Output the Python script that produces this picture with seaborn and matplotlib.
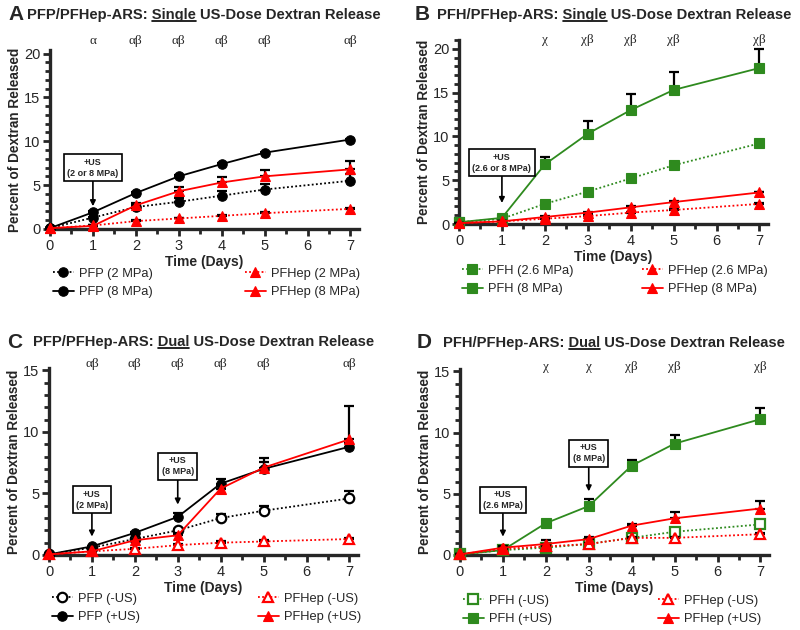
import numpy as np
import matplotlib
matplotlib.use('Agg')
import matplotlib.pyplot as plt
import seaborn as sns
from matplotlib.lines import Line2D
from matplotlib.ticker import MultipleLocator

# time points (days)
days = [0, 1, 2, 3, 4, 5, 7]

# A: PFP/PFHep single dose
a_pfp_2 = [0.1, 1.3, 2.5, 3.1, 3.8, 4.5, 5.5]
a_pfp_2_err = [0, 0.1, 0.2, 0.4, 0.5, 0.6, 0.8]
a_pfp_8 = [0.1, 1.9, 4.1, 6.0, 7.4, 8.7, 10.2]
a_pfp_8_err = [0, 0.1, 0.1, 0.1, 0.1, 0.1, 0.1]
a_hep_2 = [0.1, 0.4, 0.9, 1.2, 1.5, 1.8, 2.3]
a_hep_2_err = [0, 0.05, 0.1, 0.1, 0.1, 0.1, 0.1]
a_hep_8 = [0.1, 0.35, 2.7, 4.3, 5.3, 6.0, 6.8]
a_hep_8_err = [0, 0.05, 0.3, 0.5, 0.6, 0.7, 0.9]

# B: PFH/PFHep single dose
b_pfh_26 = [0.2, 0.6, 2.3, 3.7, 5.2, 6.7, 9.2]
b_pfh_26_err = [0, 0.05, 0.1, 0.1, 0.1, 0.1, 0.1]
b_pfh_8 = [0.2, 0.7, 6.8, 10.3, 13.0, 15.3, 17.8]
b_pfh_8_err = [0, 0.1, 0.9, 1.5, 1.8, 2.1, 2.2]
b_hep_26 = [0.1, 0.3, 0.6, 0.9, 1.3, 1.6, 2.3]
b_hep_26_err = [0, 0.05, 0.1, 0.1, 0.1, 0.1, 0.1]
b_hep_8 = [0.1, 0.3, 0.8, 1.3, 1.9, 2.5, 3.6]
b_hep_8_err = [0, 0.05, 0.1, 0.1, 0.1, 0.1, 0.1]

# C: PFP/PFHep dual dose
c_pfp_no = [0.05, 0.6, 1.3, 2.0, 3.0, 3.6, 4.6]
c_pfp_no_err = [0, 0.05, 0.1, 0.1, 0.3, 0.4, 0.6]
c_pfp_us = [0.05, 0.7, 1.8, 3.1, 5.8, 7.0, 8.8]
c_pfp_us_err = [0, 0.05, 0.1, 0.3, 0.4, 0.9, 0.3]
c_hep_no = [0.05, 0.3, 0.5, 0.8, 1.0, 1.1, 1.3]
c_hep_no_err = [0, 0.05, 0.05, 0.1, 0.1, 0.1, 0.1]
c_hep_us = [0.05, 0.3, 1.2, 1.6, 5.4, 7.1, 9.4]
c_hep_us_err = [0, 0.05, 0.1, 0.2, 0.3, 0.5, 2.7]

# D: PFH/PFHep dual dose
d_pfh_no = [0.05, 0.4, 0.6, 0.9, 1.4, 1.9, 2.5]
d_pfh_no_err = [0, 0.05, 0.1, 0.1, 0.3, 0.2, 0.4]
d_pfh_us = [0.05, 0.4, 2.6, 4.0, 7.3, 9.1, 11.1]
d_pfh_us_err = [0, 0.1, 0.1, 0.6, 0.5, 0.7, 0.9]
d_hep_no = [0.05, 0.5, 0.7, 0.9, 1.4, 1.4, 1.7]
d_hep_no_err = [0, 0.05, 0.1, 0.1, 0.1, 0.1, 0.1]
d_hep_us = [0.05, 0.6, 0.9, 1.3, 2.4, 3.0, 3.8]
d_hep_us_err = [0, 0.1, 0.3, 0.2, 0.1, 0.5, 0.6]

# significance marks above each panel
a_sig_days = [1, 2, 3, 4, 5, 7]
a_sig = ['α', 'αβ', 'αβ', 'αβ', 'αβ', 'αβ']
b_sig_days = [2, 3, 4, 5, 7]
b_sig = ['χ', 'χβ', 'χβ', 'χβ', 'χβ']
c_sig_days = [1, 2, 3, 4, 5, 7]
c_sig = ['αβ', 'αβ', 'αβ', 'αβ', 'αβ', 'αβ']
d_sig_days = [2, 3, 4, 5, 7]
d_sig = ['χ', 'χ', 'χβ', 'χβ', 'χβ']

sns.set_theme(style='ticks')
plt.rcParams['font.family'] = ['Liberation Sans', 'DejaVu Sans']

BLACK = 'black'
RED = '#ff0000'
GREEN = '#2e8a1e'
DOT = (0, (1, 1.3))
MS = 6.8

fig = plt.figure(figsize=(8, 6.3), dpi=100)
W, H = 800, 630


def make_ax(left, right, top, bottom):
    return fig.add_axes([left / W, 1 - bottom / H, (right - left) / W, (bottom - top) / H])


def style_ax(ax, ytop, ymajor):
    ax.set_xlim(0, 7.2)
    ax.set_ylim(0, ytop)
    sns.despine(ax=ax)
    for s in ['left', 'bottom']:
        ax.spines[s].set_linewidth(2.4)
    ax.xaxis.set_major_locator(MultipleLocator(1))
    ax.xaxis.set_minor_locator(MultipleLocator(0.5))
    ax.yaxis.set_major_locator(MultipleLocator(ymajor))
    ax.yaxis.set_minor_locator(MultipleLocator(1))
    ax.tick_params(which='major', direction='out', width=2, length=5, labelsize=10.5, pad=2)
    ax.tick_params(which='minor', direction='out', width=2, length=3.5)
    ax.set_xlabel('Time (Days)', fontsize=10, fontweight='bold')
    ax.set_ylabel('Percent of Dextran Released', fontsize=9.8, fontweight='bold')


def series(ax, y, err, color, ls, marker, filled, z):
    sns.lineplot(x=days, y=y, ax=ax, color=color, linestyle=ls, lw=1.3,
                 marker=marker, markersize=MS,
                 markerfacecolor=color if filled else 'white',
                 markeredgecolor=color, markeredgewidth=1.6 if not filled else 0.8,
                 zorder=z, legend=False, errorbar=None, clip_on=False)
    ax.errorbar(days, y, yerr=[np.zeros(len(err)), err], fmt='none', ecolor='black',
                elinewidth=1.6, capsize=3.6, capthick=1.6, zorder=z - 0.5, clip_on=False)


def handle(color, ls, marker, filled):
    return Line2D([], [], color=color, linestyle=ls, lw=1.3, marker=marker,
                  markersize=MS,
                  markerfacecolor=color if filled else 'white', markeredgecolor=color,
                  markeredgewidth=1.6 if not filled else 0.8)


def legend(handles, labels, x, y):
    fig.legend(handles, labels, loc='center left', bbox_to_anchor=(x / W, 1 - y / H),
               frameon=False, fontsize=9.3, handlelength=1.6, handletextpad=0.45,
               labelspacing=0.5, borderpad=0, borderaxespad=0)


def sig(ax, xs, labels, y):
    for x, s in zip(xs, labels):
        ax.text(x, y, s, ha='center', va='center', fontsize=9.5,
                family=['Liberation Serif', 'DejaVu Serif'], clip_on=False)


def us_box(ax, x, text, box_y, tip_y):
    ax.annotate(text, xy=(x, tip_y), xytext=(x, box_y), ha='center', va='center',
                fontsize=6.5, fontweight='bold', linespacing=1.3,
                bbox=dict(boxstyle='square,pad=0.35', fc='white', ec='black', lw=1.2),
                arrowprops=dict(arrowstyle='-|>', color='black', lw=1.2,
                                mutation_scale=8, shrinkA=0, shrinkB=0), zorder=6)


def title(letter, xl, xt, y, prefix, word, suffix):
    fig.text(xl / W, 1 - y / H, letter, fontsize=15, fontweight='bold', va='center')
    t = fig.text(xt / W, 1 - y / H, prefix + word + suffix, fontsize=10.6,
                 fontweight='bold', va='center')
    r = fig.canvas.get_renderer()
    fp = t.get_fontproperties()
    w_pw, _, _ = r.get_text_width_height_descent(prefix + word, fp, ismath=False)
    w_w, _, _ = r.get_text_width_height_descent(word, fp, ismath=False)
    bb = t.get_window_extent(r)
    _, _, d = r.get_text_width_height_descent(prefix + word + suffix, fp, ismath=False)
    yl = bb.y0 + d - 2
    x_end = bb.x0 + w_pw
    fig.add_artist(Line2D([(x_end - w_w) / W, x_end / W], [yl / H, yl / H],
                          transform=fig.transFigure, color='black', lw=1.2))


# ---------- A ----------
axA = make_ax(50, 359, 50, 229)
style_ax(axA, 20.4, 5)
series(axA, a_pfp_2, a_pfp_2_err, BLACK, DOT, 'o', True, 3)
series(axA, a_pfp_8, a_pfp_8_err, BLACK, '-', 'o', True, 3)
series(axA, a_hep_2, a_hep_2_err, RED, DOT, '^', True, 4)
series(axA, a_hep_8, a_hep_8_err, RED, '-', '^', True, 4)
sig(axA, a_sig_days, a_sig, 21.4)
us_box(axA, 1, '+US\n(2 or 8 MPa)', 7.0, 2.6)

# ---------- B ----------
axB = make_ax(459, 768, 40, 224)
style_ax(axB, 21.0, 5)
series(axB, b_pfh_26, b_pfh_26_err, GREEN, DOT, 's', True, 3)
series(axB, b_pfh_8, b_pfh_8_err, GREEN, '-', 's', True, 3)
series(axB, b_hep_26, b_hep_26_err, RED, DOT, '^', True, 4)
series(axB, b_hep_8, b_hep_8_err, RED, '-', '^', True, 4)
sig(axB, b_sig_days, b_sig, 21.0)
us_box(axB, 1, '+US\n(2.6 or 8 MPa)', 7.0, 2.4)

# ---------- C ----------
axC = make_ax(49, 358, 368, 555)
style_ax(axC, 15.2, 5)
series(axC, c_pfp_no, c_pfp_no_err, BLACK, DOT, 'o', False, 3)
series(axC, c_pfp_us, c_pfp_us_err, BLACK, '-', 'o', True, 3)
series(axC, c_hep_no, c_hep_no_err, RED, DOT, '^', False, 4)
series(axC, c_hep_us, c_hep_us_err, RED, '-', '^', True, 4)
sig(axC, c_sig_days, c_sig, 15.5)
us_box(axC, 1, '+US\n(2 MPa)', 4.5, 1.5)
us_box(axC, 3, '+US\n(8 MPa)', 7.2, 4.1)

# ---------- D ----------
axD = make_ax(460, 769, 369, 555)
style_ax(axD, 15.2, 5)
series(axD, d_pfh_no, d_pfh_no_err, GREEN, DOT, 's', False, 3)
series(axD, d_pfh_us, d_pfh_us_err, GREEN, '-', 's', True, 3)
series(axD, d_hep_no, d_hep_no_err, RED, DOT, '^', False, 4)
series(axD, d_hep_us, d_hep_us_err, RED, '-', '^', True, 4)
sig(axD, d_sig_days, d_sig, 15.4)
us_box(axD, 1, '+US\n(2.6 MPa)', 4.5, 1.5)
us_box(axD, 3, '+US\n(8 MPa)', 8.3, 5.2)

# axis label placement
for ax, h, w in [(axA, 179, 309), (axB, 184, 309), (axC, 187, 309), (axD, 186, 309)]:
    ax.xaxis.set_label_coords(0.5, -33 / h)
    ax.xaxis.label.set_va('center')
    ax.yaxis.set_label_coords(-28 / w, 0.5)

# legends
legend([handle(BLACK, DOT, 'o', True), handle(BLACK, '-', 'o', True)],
       ['PFP (2 MPa)', 'PFP (8 MPa)'], 53, 283)
legend([handle(RED, DOT, '^', True), handle(RED, '-', '^', True)],
       ['PFHep (2 MPa)', 'PFHep (8 MPa)'], 245, 283)
legend([handle(GREEN, DOT, 's', True), handle(GREEN, '-', 's', True)],
       ['PFH (2.6 MPa)', 'PFH (8 MPa)'], 462, 280)
legend([handle(RED, DOT, '^', True), handle(RED, '-', '^', True)],
       ['PFHep (2.6 MPa)', 'PFHep (8 MPa)'], 642, 280)
legend([handle(BLACK, DOT, 'o', False), handle(BLACK, '-', 'o', True)],
       ['PFP (-US)', 'PFP (+US)'], 52, 608)
legend([handle(RED, DOT, '^', False), handle(RED, '-', '^', True)],
       ['PFHep (-US)', 'PFHep (+US)'], 258, 608)
legend([handle(GREEN, DOT, 's', False), handle(GREEN, '-', 's', True)],
       ['PFH (-US)', 'PFH (+US)'], 463, 610)
legend([handle(RED, DOT, '^', False), handle(RED, '-', '^', True)],
       ['PFHep (-US)', 'PFHep (+US)'], 658, 610)

# panel titles
title('A', 8, 27, 15, 'PFP/PFHep-ARS: ', 'Single', ' US-Dose Dextran Release')
title('B', 415, 437, 15, 'PFH/PFHep-ARS: ', 'Single', ' US-Dose Dextran Release')
title('C', 7, 33, 342, 'PFP/PFHep-ARS: ', 'Dual', ' US-Dose Dextran Release')
title('D', 417, 443, 343, 'PFH/PFHep-ARS: ', 'Dual', ' US-Dose Dextran Release')

fig.savefig('out.png', dpi=100)
